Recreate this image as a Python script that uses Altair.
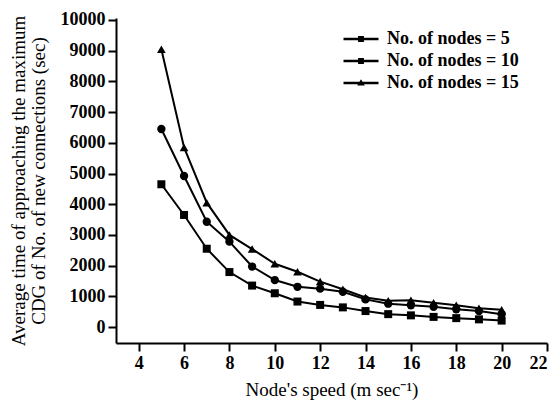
import altair as alt
import pandas as pd

# Node speed (m/s) on the x axis
speeds = [5, 6, 7, 8, 9, 10, 11, 12, 13, 14, 15, 16, 17, 18, 19, 20]

# Average time (sec) for each network size
nodes_5 = [4650, 3650, 2550, 1790, 1350, 1100, 830, 720, 640, 520, 420, 380, 330, 290, 250, 210]
nodes_10 = [6450, 4920, 3430, 2780, 1970, 1530, 1310, 1250, 1150, 900, 760, 710, 660, 580, 520, 420]
nodes_15 = [9050, 5850, 4050, 3000, 2540, 2060, 1800, 1480, 1230, 960, 860, 870, 790, 710, 610, 560]

series_names = ["No. of nodes = 5", "No. of nodes = 10", "No. of nodes = 15"]
series_values = [nodes_5, nodes_10, nodes_15]

y_ticks = [0, 1000, 2000, 3000, 4000, 5000, 6000, 7000, 8000, 9000, 10000]
x_ticks = [4, 6, 8, 10, 12, 14, 16, 18, 20, 22]

rows = []
for name, vals in zip(series_names, series_values):
    for s, v in zip(speeds, vals):
        rows.append({"speed": s, "time": v, "series": name})
df = pd.DataFrame(rows)

FONT = "Liberation Serif"

axis_style = dict(
    domainColor="black",
    domainWidth=2,
    tickColor="black",
    tickWidth=2,
    tickSize=8,
    grid=False,
    labelFont=FONT,
    labelFontSize=18,
    labelFontWeight=700,
    labelColor="black",
    labelPadding=3,
    titleFont=FONT,
    titleFontSize=19,
    titleFontWeight="normal",
    titleColor="black",
)

x_enc = alt.X(
    "speed:Q",
    scale=alt.Scale(domain=[3, 22], nice=False, zero=False),
    axis=alt.Axis(
        values=x_ticks,
        format="d",
        title="Node's speed (m sec\u207b\u00b9)",
        titlePadding=8,
        **axis_style,
    ),
)
y_enc = alt.Y(
    "time:Q",
    scale=alt.Scale(domain=[-520, 10065], nice=False, zero=False),
    axis=alt.Axis(
        values=y_ticks,
        format="d",
        title=["Average time of approaching the maximum",
               "CDG of No. of new connections (sec)"],
        titlePadding=12,
        titleLineHeight=20,
        **axis_style,
    ),
)

lines = alt.Chart(df).mark_line(color="black", strokeWidth=2).encode(
    x=x_enc, y=y_enc, detail="series:N"
)

points = alt.Chart(df).mark_point(filled=True, color="black", opacity=1).encode(
    x=x_enc,
    y=y_enc,
    shape=alt.Shape(
        "series:N",
        scale=alt.Scale(domain=series_names, range=["square", "circle", "triangle-up"]),
        legend=None,
    ),
    size=alt.Size(
        "series:N",
        scale=alt.Scale(domain=series_names, range=[64, 75, 85]),
        legend=None,
    ),
)

# Legend glyphs: a thin filled bar (the line) with a small marker in the middle
BAR = "M-3,-0.2L3,-0.2L3,0.2L-3,0.2Z"
legend_paths = [
    BAR + "M-0.5,-0.5L0.5,-0.5L0.5,0.5L-0.5,0.5Z",
    BAR + "M-0.5,-0.5L0.5,-0.5L0.5,0.5L-0.5,0.5Z",
    BAR + "M0,-0.65L0.65,0.45L-0.65,0.45Z",
]

legend_layer = alt.Chart(df).mark_point(
    filled=True, opacity=0, size=136, color="black"
).encode(
    x=x_enc,
    y=y_enc,
    shape=alt.Shape(
        "series:N",
        scale=alt.Scale(domain=series_names, range=legend_paths),
        legend=alt.Legend(
            title=None,
            orient="none",
            legendX=236,
            legendY=12,
            labelFont=FONT,
            labelFontSize=18,
            labelFontWeight=700,
            labelColor="black",
            labelOffset=17,
            rowPadding=4,
            symbolOpacity=1,
            symbolFillColor="black",
            symbolStrokeWidth=0,
            symbolSize=136,
        ),
    ),
)

chart = (
    alt.layer(lines, points, legend_layer)
    .resolve_scale(shape="independent", size="independent")
    .properties(
        width=431,
        height=325,
        autosize=alt.AutoSizeParams(type="none"),
        padding={"left": 116, "top": 18, "right": 11, "bottom": 59},
        background="white",
    )
    .configure_view(stroke=None)
)

chart.save("out.html", embed_options={"renderer": "svg", "actions": False})
